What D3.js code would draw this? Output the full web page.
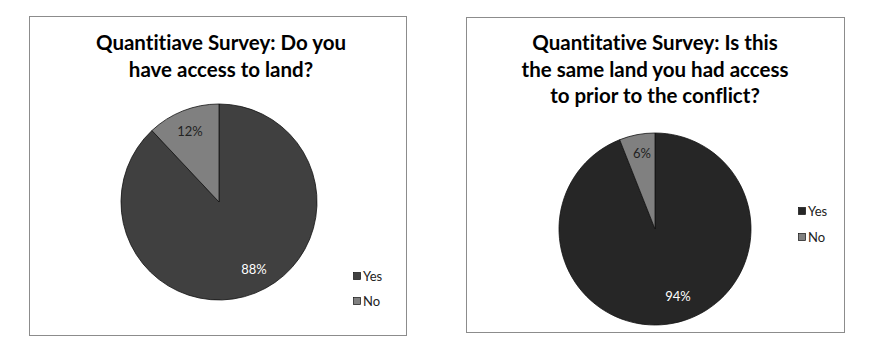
<!DOCTYPE html>
<html lang="en">
<head>
<meta charset="UTF-8">
<title>Quantitative Survey</title>
<script src="https://d3js.org/d3.v7.min.js"></script>
<style>
  body { margin: 0; background: #fff; }
  text { font-family: Lato, "Open Sans", sans-serif; font-variant-ligatures: none; }
</style>
</head>
<body>
<svg id="chart" width="870" height="352"></svg>
<script>
const categories = ["Yes", "No"];
const accessValues = [88, 12];
const sameLandValues = [94, 6];
const titleAccess = ["Quantitiave Survey: Do you", "have access to land?"];
const titleSame = ["Quantitative Survey: Is this", "the same land you had access", "to prior to the conflict?"];

const svg = d3.select("#chart");

function drawPie(opts) {
  const g = svg.append("g");
  g.append("rect")
    .attr("x", opts.box[0] + 0.5).attr("y", opts.box[1] + 0.5)
    .attr("width", opts.box[2]).attr("height", opts.box[3])
    .attr("fill", "#fff").attr("stroke", "#8c8c8c").attr("stroke-width", 1);

  g.append("text")
    .attr("text-anchor", "middle")
    .attr("font-size", 20.5).attr("font-weight", "bold").attr("fill", "#000")
    .selectAll("tspan").data(opts.title).join("tspan")
    .attr("x", opts.titleX)
    .attr("y", (d, i) => opts.titleY + i * 26.5)
    .text(d => d);

  const color = d3.scaleOrdinal().domain(categories).range(opts.colors);
  const data = categories.map((c, i) => ({ label: c, value: opts.values[i] }));
  // start at 12 o'clock, clockwise, keep category order
  const pie = d3.pie().sort(null).value(d => d.value);
  const arc = d3.arc().innerRadius(0).outerRadius(opts.r);
  const pg = g.append("g").attr("transform", `translate(${opts.cx},${opts.cy})`);

  pg.selectAll("path").data(pie(data)).join("path")
    .attr("d", arc)
    .attr("fill", d => color(d.data.label))
    .attr("stroke", "#111").attr("stroke-width", 0.8);

  pg.selectAll("text.lbl").data(pie(data)).join("text")
    .attr("class", "lbl")
    .attr("x", (d, i) => opts.labelPos[i][0])
    .attr("y", (d, i) => opts.labelPos[i][1])
    .attr("text-anchor", "middle").attr("dy", "0.35em")
    .attr("font-size", 13)
    .attr("fill", (d, i) => i === 0 ? "#fff" : "#222")
    .text(d => d.data.value + "%");

  const lg = g.append("g").selectAll("g").data(categories).join("g")
    .attr("transform", (d, i) => `translate(${opts.legend[0]},${opts.legend[1] + i * opts.legendGap})`);
  lg.append("rect")
    .attr("x", -3.5).attr("y", -3.5).attr("width", 7).attr("height", 7)
    .attr("fill", d => color(d)).attr("stroke", "#111").attr("stroke-width", 0.7);
  lg.append("text")
    .attr("x", 6).attr("dy", "0.36em")
    .attr("font-size", 13).attr("fill", "#222")
    .text(d => d);
}

drawPie({
  box: [29, 16, 377, 319],
  title: titleAccess, titleX: 221, titleY: 50,
  values: accessValues, colors: ["#404040", "#808080"],
  cx: 219, cy: 202, r: 98,
  labelPos: [[35, 67], [-29, -71]],
  legend: [357, 276], legendGap: 25
});

drawPie({
  box: [466, 17, 378, 315],
  title: titleSame, titleX: 655, titleY: 50,
  values: sameLandValues, colors: ["#262626", "#808080"],
  cx: 655, cy: 229, r: 96,
  labelPos: [[23, 67], [-13, -76]],
  legend: [802, 211], legendGap: 26
});
</script>
</body>
</html>
